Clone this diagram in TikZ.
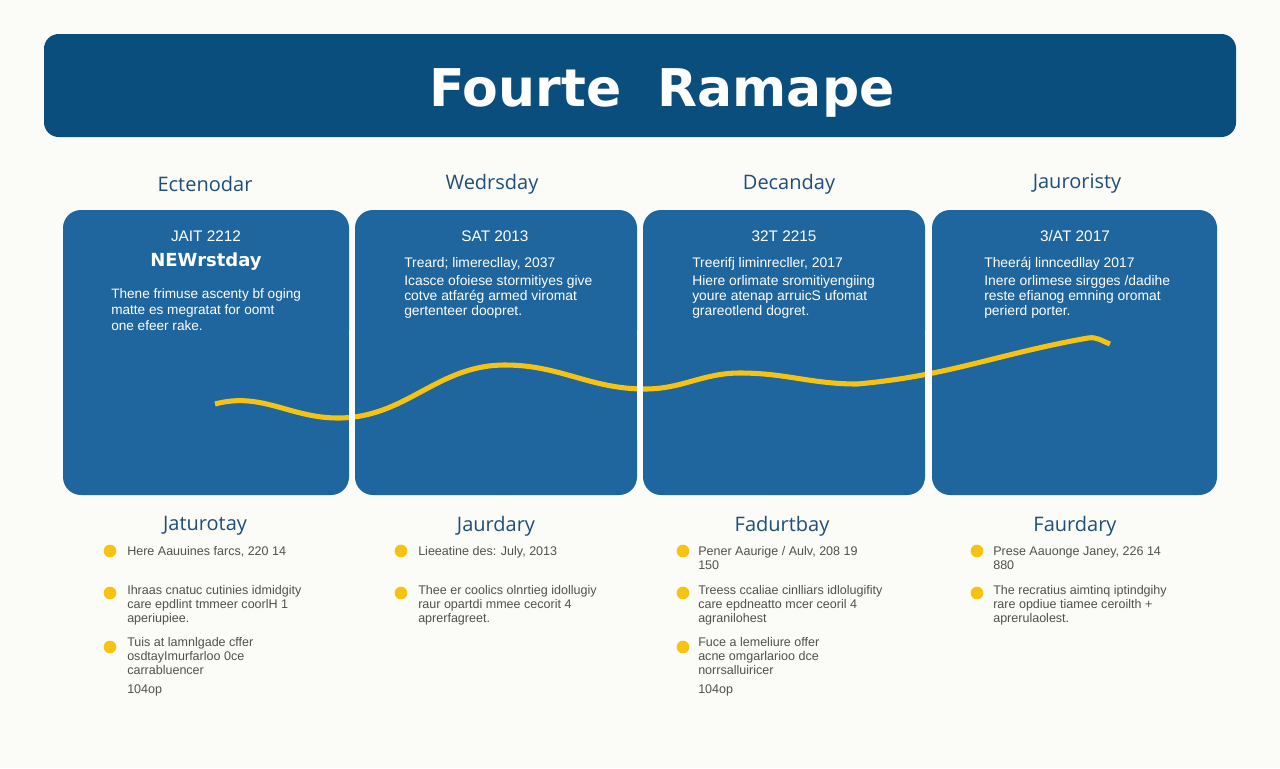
\documentclass[tikz,border=0pt]{standalone}
\usepackage{fontspec}
\setmainfont{Liberation Sans}
\newfontfamily\headfont{Open Sans}
\newfontfamily\titlefont{DejaVu Sans}
\definecolor{bgc}{HTML}{FBFBF7}
\definecolor{titlec}{HTML}{0A4E7E}
\definecolor{cardc}{HTML}{1F669E}
\definecolor{headc}{HTML}{1E4E79}
\definecolor{wavec}{HTML}{F6C312}
\definecolor{bodyc}{HTML}{505050}
\begin{document}
\begin{tikzpicture}[x=0.75pt,y=-0.75pt,
  card/.style={fill=cardc,rounded corners=13.5pt},
  cardtitle/.style={text=white,font=\fontsize{11.5}{13}\selectfont,inner sep=0pt},
  cardbody/.style={text=white,font=\fontsize{10.4}{11.3}\selectfont,align=left,inner sep=0pt,anchor=north west},
  colhead/.style={text=headc,font=\headfont\fontsize{15}{17}\selectfont,inner sep=0pt},
  subhead/.style={text=headc,font=\headfont\fontsize{15}{17}\selectfont,inner sep=0pt},
  dot/.style={circle,fill=wavec,minimum size=9.5pt,inner sep=0pt},
  btext/.style={text=bodyc,font=\fontsize{9.4}{10.5}\selectfont,align=left,inner sep=0pt,anchor=north west},
  gapstrip/.style={fill=bgc}]
\useasboundingbox (0,0) rectangle (1280,768);
\fill[bgc] (0,0) rectangle (1280,768);
% title bar
\fill[titlec,rounded corners=11pt] (44,34) rectangle (1236,137);
\node[text=white,font=\titlefont\bfseries\fontsize{39}{44}\selectfont,inner sep=0pt,anchor=base] (title) at (662,106) {Fourte\hspace{0.35em} Ramape};
% column headers
\node[colhead] (h1) at (205,184) {Ectenodar};
\node[colhead] (h2) at (492,184) {Wedrsday};
\node[colhead] (h3) at (789,184) {Decanday};
\node[colhead] (h4) at (1077,184) {Jauroristy};
% cards
\fill[card] (63,210) rectangle (349,495);
\fill[card] (355,210) rectangle (637,495);
\fill[card] (643,210) rectangle (925,495);
\fill[card] (932,210) rectangle (1217,495);
% wave
\draw[wavec,line width=3.8pt,line cap=butt]
  (215,404) to[out=15,in=180] (338,418) to[out=0,in=180] (505,365)
  to[out=0,in=180] (645,389) to[out=0,in=180] (740,373)
  to[out=0,in=180] (857,384) to[out=5,in=190] (1088,338) to[out=10,in=160] (1110,344);
\fill[gapstrip] (349,330) rectangle (355,440);
\fill[gapstrip] (637,330) rectangle (643,440);
\fill[gapstrip] (925,330) rectangle (932,440);
% card 1
\node[cardtitle] (c1t) at (206,236) {JAIT 2212};
\node[text=white,font=\titlefont\bfseries\fontsize{13.5}{16}\selectfont,inner sep=0pt] (c1s) at (206,262) {NEWrstday};
\node[cardbody,font=\fontsize{10.2}{12}\selectfont] (c1b) at (111,288) {Thene frimuse ascenty bf oging\\matte es megratat for oomt\\one efeer rake.};
% card 2
\node[cardtitle] (c2t) at (495,236) {SAT 2013};
\node[cardbody] (c2b) at (404,257) {Treard; limerecllay, 2037\\[2pt]Icasce ofoiese stormitiyes give\\cotve atfarég armed viromat\\gertenteer doopret.};
% card 3
\node[cardtitle] (c3t) at (784,236) {32T 2215};
\node[cardbody] (c3b) at (692,257) {Treerifj liminrecller, 2017\\[2pt]Hiere orlimate sromitiyengiing\\youre atenap arruicS ufomat\\grareotlend dogret.};
% card 4
\node[cardtitle] (c4t) at (1075,236) {3/AT 2017};
\node[cardbody] (c4b) at (984,257) {Theeráj linncedllay 2017\\[2pt]Inere orlimese sirgges /dadihe\\reste efianog emning oromat\\perierd porter.};
% bottom column 1
\node[subhead] (s1) at (205,526) {Jaturotay};
\node[dot] (d11) at (110,551) {};
\node[btext] (t11) at (127,546) {Here Aauuines farcs, 220 14};
\node[dot] (d12) at (110,593) {};
\node[btext] (t12) at (127,585) {Ihraas cnatuc cutinies idmidgity\\care epdlint tmmeer coorlH 1\\aperiupiee.};
\node[dot] (d13) at (110,647) {};
\node[btext] (t13) at (127,637) {Tuis at lamnlgade cffer\\osdtayImurfarloo 0ce\\carrabluencer};
\node[btext] (t14) at (127,684) {104op};
% bottom column 2
\node[subhead] (s2) at (496,526) {Jaurdary};
\node[dot] (d21) at (401,551) {};
\node[btext] (t21) at (418,546) {Lieeatine des: July, 2013};
\node[dot] (d22) at (401,593) {};
\node[btext] (t22) at (418,585) {Thee er coolics olnrtieg idollugiy\\raur opartdi mmee cecorit 4\\aprerfagreet.};
% bottom column 3
\node[subhead] (s3) at (782,526) {Fadurtbay};
\node[dot] (d31) at (683,551) {};
\node[btext] (t31) at (698,546) {Pener Aaurige / Aulv, 208 19\\150};
\node[dot] (d32) at (683,593) {};
\node[btext] (t32) at (698,585) {Treess ccaliae cinlliars idlolugifity\\care epdneatto mcer ceoril 4\\agranilohest};
\node[dot] (d33) at (683,647) {};
\node[btext] (t33) at (698,637) {Fuce a lemeliure offer\\acne omgarlarioo dce\\norrsalluiricer};
\node[btext] (t34) at (698,684) {104op};
% bottom column 4
\node[subhead] (s4) at (1075,526) {Faurdary};
\node[dot] (d41) at (977,551) {};
\node[btext] (t41) at (993,546) {Prese Aauonge Janey, 226 14\\880};
\node[dot] (d42) at (977,593) {};
\node[btext] (t42) at (993,585) {The recratius aimtinq iptindgihy\\rare opdiue tiamee ceroilth +\\aprerulaolest.};
\end{tikzpicture}
\end{document}
